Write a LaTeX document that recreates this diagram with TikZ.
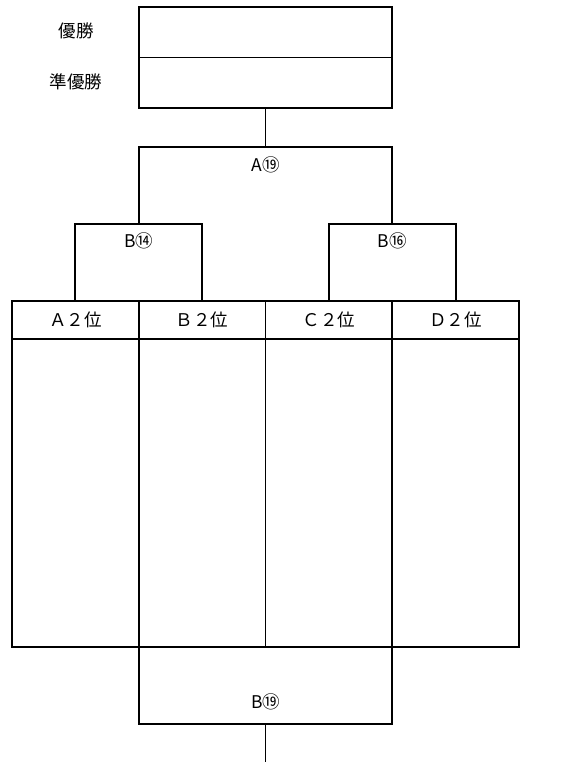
\documentclass[tikz,border=0pt]{standalone}
\usepackage{fontspec}
\setmainfont{Noto Sans CJK JP}
\usetikzlibrary{positioning}

\begin{document}
\begin{tikzpicture}[x=1pt,y=-1pt,line width=1.8pt]
	\tikzset{every node/.style={font=\fontsize{17.5}{20}\selectfont},
		rank/.style={draw,minimum width=253.5pt,minimum height=50.5pt,inner sep=0pt,outer sep=0pt},
		head/.style={draw,minimum width=126.75pt,minimum height=38pt,inner sep=0pt,outer sep=0pt},
		lane/.style={draw,minimum width=126.75pt,minimum height=308pt,inner sep=0pt,outer sep=0pt}}
	\useasboundingbox (0,0) rectangle (580,762);

	\node[rank,anchor=north west] (win) at (138.75,7) {};
	\node[rank,below=0pt of win] (second) {};
	\node (winlab) at (76,31) {優勝};
	\node (secondlab) at (76,81.5) {準優勝};

	\node[head,anchor=north west] (hA) at (12,301) {Ａ２位};
	\node[head,right=0pt of hA] (hB) {Ｂ２位};
	\node[head,right=0pt of hB] (hC) {Ｃ２位};
	\node[head,right=0pt of hC] (hD) {Ｄ２位};
	\foreach \t in {A,B,C,D}
		\node[lane,below=0pt of h\t] (l\t) {};

	\coordinate (semi1) at (138.75,224);
	\coordinate (semi2) at (392.25,224);
	\coordinate (final) at (265.5,147);
	\coordinate (third) at (265.5,724);
	\coordinate (thirdend) at (265.5,762);

	\draw (hA.north) |- (semi1) -| (hB.north);
	\draw (hC.north) |- (semi2) -| (hD.north);
	\draw (semi1) |- (final) -| (semi2);
	\draw (second.south) -- (final);
	\draw (lA.south east) |- (third) -| (lC.south east);
	\draw (third) -- (thirdend);

	\node (semi1lab) at (138.75,241) {B⑭};
	\node (semi2lab) at (392.25,241) {B⑯};
	\node (finallab) at (265.5,165) {A⑲};
	\node (thirdlab) at (265.5,702) {B⑲};
\end{tikzpicture}
\end{document}
